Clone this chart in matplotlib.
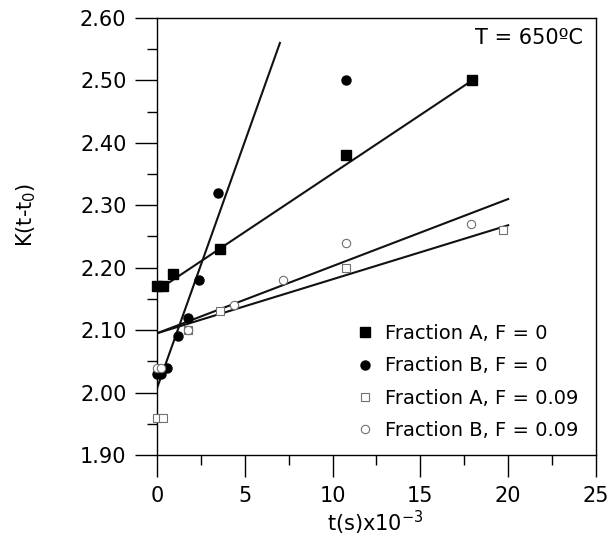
import matplotlib
matplotlib.use("Agg")
import matplotlib.pyplot as plt
from matplotlib.ticker import MultipleLocator, FormatStrFormatter

# data (t in s x 1e-3)
xA0 = [0, 0.35, 0.9, 3.6, 10.75, 17.95]
yA0 = [2.17, 2.17, 2.19, 2.23, 2.38, 2.50]
xB0 = [0, 0.2, 0.55, 1.2, 1.75, 2.4, 3.5, 10.75]
yB0 = [2.03, 2.03, 2.04, 2.09, 2.12, 2.18, 2.32, 2.50]
xA9 = [0, 0.35, 1.75, 3.6, 10.75, 19.7]
yA9 = [1.96, 1.96, 2.10, 2.13, 2.20, 2.26]
xB9 = [0, 0.2, 1.75, 4.4, 7.15, 10.75, 17.9]
yB9 = [2.04, 2.04, 2.10, 2.14, 2.18, 2.24, 2.27]

# fitted lines (end points)
fitA0_x, fitA0_y = [0.35, 17.95], [2.17, 2.50]
fitB0_x, fitB0_y = [0, 7.0], [2.007, 2.56]
fitA9_x, fitA9_y = [0, 20], [2.095, 2.268]
fitB9_x, fitB9_y = [0, 20], [2.095, 2.31]

labels = ["Fraction A, F = 0", "Fraction B, F = 0",
          "Fraction A, F = 0.09", "Fraction B, F = 0.09"]

plt.rcParams['font.family'] = ['DejaVu Sans']

fig = plt.figure(figsize=(6.1, 5.53), dpi=100)
ax = fig.add_axes([0.2574, 0.1772, 0.7196, 0.7903])

lc = '#111111'
for fx, fy in [(fitA0_x, fitA0_y), (fitB0_x, fitB0_y),
               (fitA9_x, fitA9_y), (fitB9_x, fitB9_y)]:
    ax.plot(fx, fy, color=lc, lw=1.5, zorder=2)

gray = '#707070'
ax.plot(xA0, yA0, 's', ms=6.5, color='black', mec='black', label=labels[0], clip_on=False, zorder=3)
ax.plot(xB0, yB0, 'o', ms=6.5, color='black', mec='black', label=labels[1], clip_on=False, zorder=3)
ax.plot(xA9, yA9, 's', ms=6, mfc='white', mec=gray, mew=0.8, label=labels[2], clip_on=False, zorder=3)
ax.plot(xB9, yB9, 'o', ms=6, mfc='white', mec=gray, mew=0.8, label=labels[3], clip_on=False, zorder=3)

ax.set_xlim(0, 25)
ax.set_ylim(1.90, 2.60)
ax.xaxis.set_major_locator(MultipleLocator(5))
ax.xaxis.set_minor_locator(MultipleLocator(2.5))
ax.yaxis.set_major_locator(MultipleLocator(0.1))
ax.yaxis.set_minor_locator(MultipleLocator(0.05))
ax.yaxis.set_major_formatter(FormatStrFormatter('%.2f'))
ax.tick_params(which='major', direction='out', length=16, width=1, labelsize=15, pad=6)
ax.tick_params(which='minor', direction='out', length=7, width=1)
for s in ax.spines.values():
    s.set_linewidth(1.0)

ax.set_xlabel('t(s)x10$^{-3}$', fontsize=15)
ax.set_ylabel('K(t-t$_0$)', fontsize=15)
ax.xaxis.set_label_coords(0.497, -0.122)
ax.yaxis.set_label_coords(-0.27, 0.55)

ax.text(0.97, 0.955, 'T = 650ºC', transform=ax.transAxes, ha='right', va='center', fontsize=15)

ax.legend(loc='lower left', bbox_to_anchor=(0.43, 0.017), frameon=False, fontsize=14,
          handletextpad=0.4, labelspacing=0.68, handlelength=1.2, borderaxespad=0)

fig.savefig('out.png', dpi=100)
